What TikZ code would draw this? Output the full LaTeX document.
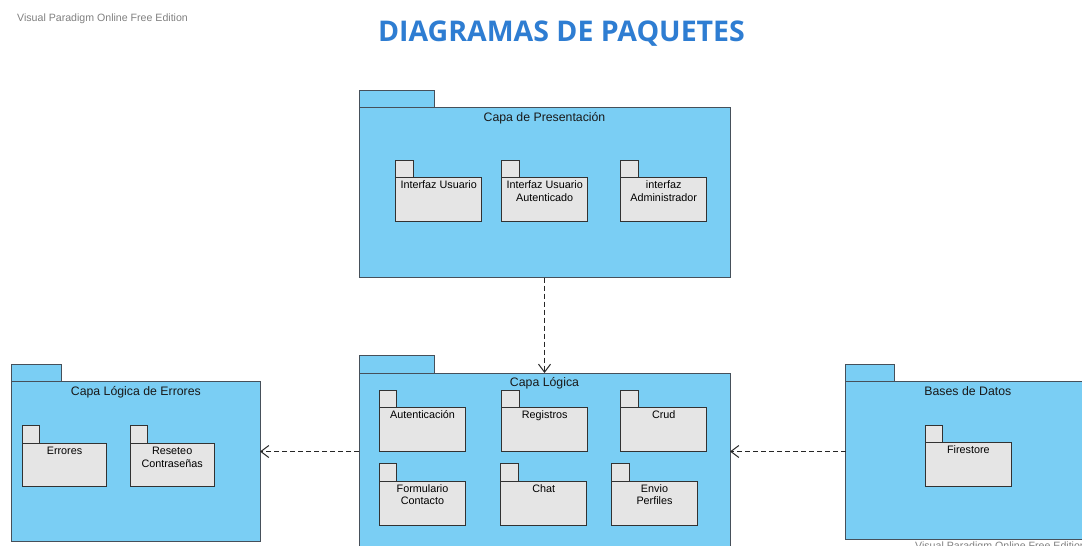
\documentclass[tikz,border=0pt]{standalone}
\usepackage{fontspec}
\setmainfont{Liberation Sans}
\newfontfamily\ttlfont{Open Sans}
\usetikzlibrary{fit,arrows.meta,calc}
\definecolor{pkgblue}{RGB}{122,206,244}
\definecolor{pkgline}{RGB}{70,80,90}
\definecolor{subfill}{RGB}{229,229,229}
\definecolor{subline}{RGB}{50,50,50}
\definecolor{ttlblue}{RGB}{46,125,210}
\definecolor{wmgray}{RGB}{128,128,128}
\tikzset{
 outerpkg/.style={draw=pkgline, fill=pkgblue, line width=1pt, inner sep=0pt, outer sep=0pt},
 innerpkg/.style={draw=subline, fill=subfill, line width=1pt, inner sep=0pt, outer sep=0pt},
 pkgtitle/.style={anchor=north, inner sep=0pt, font=\fontsize{12.3}{14}\selectfont, text=black!90},
 sublabel/.style={anchor=north, inner sep=0pt, align=center, font=\fontsize{10.8}{12.7}\selectfont, text=black},
 dep/.style={draw=black!85, line width=1pt, dash pattern=on 5pt off 3pt, -{Straight Barb[length=8pt,width=12pt]}},
 wmark/.style={anchor=base west, inner sep=0pt, font=\fontsize{10.6}{12}\selectfont, text=wmgray},
}
\newcommand\umlpkg[8]{%
  \node[#2, fit={(#3,#4) (#5,#6)}] (#1-tab) {};
  \node[#2, fit={(#3,#6) (#7,#8)}] (#1) {};
}
\begin{document}
\begin{tikzpicture}[x=1pt,y=-1pt]
\useasboundingbox[fill=white] (0,0) rectangle (1082,546);
\clip (0,0) rectangle (1082,546);

\node[wmark] (wm1) at (17,21) {Visual Paradigm Online Free Edition};
\node[anchor=base, inner sep=0pt, font=\ttlfont\bfseries\fontsize{28.5}{30}\selectfont, text=ttlblue] (title) at (561.5,41.7) {DIAGRAMAS DE PAQUETES};

% outer packages
\umlpkg{pres}{outerpkg}{359}{90}{434}{107.7}{730}{277.7}
\umlpkg{logica}{outerpkg}{359}{355}{434}{373}{730}{560}
\umlpkg{errl}{outerpkg}{11.7}{364}{61.7}{381.7}{260}{541}
\umlpkg{bd}{outerpkg}{845.7}{364}{894.3}{381.7}{1090}{539.3}

\node[pkgtitle] (pres-t) at (pres.north) {\rule{0pt}{13.3pt}Capa de Presentación};
\node[pkgtitle] (logica-t) at (logica.north) {\rule{0pt}{13.3pt}Capa Lógica};
\node[pkgtitle] (errl-t) at (errl.north) {\rule{0pt}{13.3pt}Capa Lógica de Errores};
\node[pkgtitle] (bd-t) at (bd.north) {\rule{0pt}{13.3pt}Bases de Datos};

% inner packages
\umlpkg{iu}{innerpkg}{395.7}{160}{413.3}{177.7}{481.7}{221.7}
\umlpkg{iua}{innerpkg}{501.7}{160}{519}{177.7}{587.7}{221.7}
\umlpkg{ia}{innerpkg}{620.7}{160}{638}{177.7}{706.7}{221.7}
\umlpkg{aut}{innerpkg}{379.3}{390}{396.7}{407.7}{465.7}{451.7}
\umlpkg{reg}{innerpkg}{501.7}{390}{519}{407.7}{587.7}{451.7}
\umlpkg{crud}{innerpkg}{620.7}{390}{638}{407.7}{706.7}{451.7}
\umlpkg{form}{innerpkg}{379.3}{463.3}{396.7}{481}{465.7}{525}
\umlpkg{chat}{innerpkg}{500.7}{463.3}{518}{481}{586.7}{525}
\umlpkg{env}{innerpkg}{611.7}{463.3}{629}{481}{697.3}{525}
\umlpkg{err}{innerpkg}{22.3}{425}{39.3}{443.3}{106.7}{486}
\umlpkg{res}{innerpkg}{130}{425}{147.7}{443.3}{214.3}{486}
\umlpkg{fire}{innerpkg}{925}{425}{942.3}{442.7}{1011.7}{486.7}

\node[sublabel] (iu-t) at (iu.north) {\rule{0pt}{11pt}Interfaz Usuario};
\node[sublabel] (iua-t) at (iua.north) {\rule{0pt}{11pt}Interfaz Usuario\\Autenticado};
\node[sublabel] (ia-t) at (ia.north) {\rule{0pt}{11pt}interfaz\\Administrador};
\node[sublabel] (aut-t) at (aut.north) {\rule{0pt}{11pt}Autenticación};
\node[sublabel] (reg-t) at (reg.north) {\rule{0pt}{11pt}Registros};
\node[sublabel] (crud-t) at (crud.north) {\rule{0pt}{11pt}Crud};
\node[sublabel] (form-t) at (form.north) {\rule{0pt}{11pt}Formulario\\Contacto};
\node[sublabel] (chat-t) at (chat.north) {\rule{0pt}{11pt}Chat};
\node[sublabel] (env-t) at (env.north) {\rule{0pt}{11pt}Envio\\Perfiles};
\node[sublabel] (err-t) at (err.north) {\rule{0pt}{11pt}Errores};
\node[sublabel] (res-t) at (res.north) {\rule{0pt}{11pt}Reseteo\\Contraseñas};
\node[sublabel] (fire-t) at (fire.north) {\rule{0pt}{11pt}Firestore};

% dependencies
\coordinate (ya) at (0,451.5);
\draw[dep] (pres.south) -- (logica.north);
\draw[dep] (logica.west |- ya) -- (errl.east |- ya);
\draw[dep] (bd.west |- ya) -- (logica.east |- ya);

\node[wmark] (wm2) at (915,549) {Visual Paradigm Online Free Edition};
\end{tikzpicture}
\end{document}
